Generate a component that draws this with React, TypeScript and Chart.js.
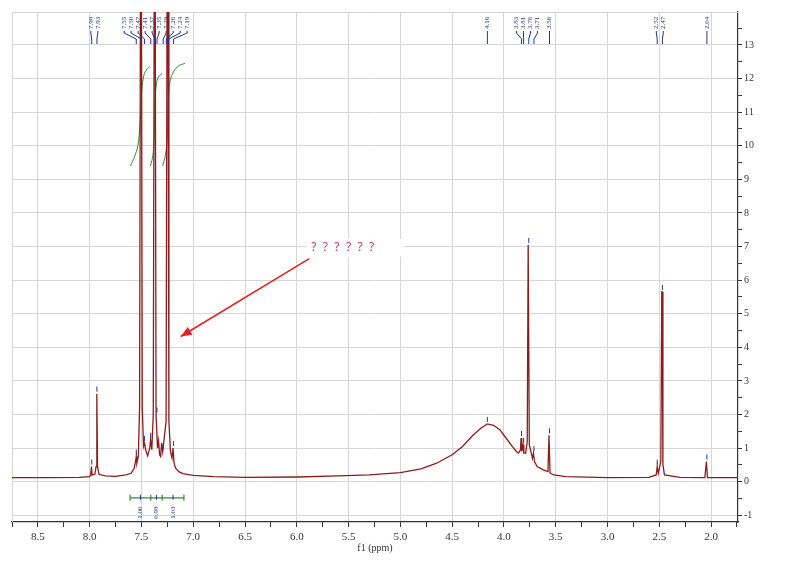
import React, { useEffect, useRef } from 'react';
import { Chart, registerables } from 'chart.js';

Chart.register(...registerables);

// ---- spectrum (ppm, intensity) ----
const spectrumPpm = [
  8.75, 8.4, 8.1, 8.0, 7.99, 7.983, 7.976, 7.95, 7.938, 7.931, 7.924, 7.91, 7.85, 7.75, 7.65, 7.6,
  7.57, 7.555, 7.55, 7.545, 7.53, 7.518, 7.51, 7.5, 7.492, 7.48, 7.47, 7.46, 7.44, 7.42, 7.412, 7.4,
  7.386, 7.377, 7.367, 7.359, 7.345, 7.335, 7.325, 7.315, 7.305, 7.295, 7.262, 7.253, 7.243, 7.235, 7.22, 7.205,
  7.195, 7.185, 7.17, 7.14, 7.1, 7.0, 6.8, 6.5, 6.0, 5.6, 5.3, 5.0, 4.8, 4.65, 4.5, 4.4, 4.3, 4.22,
  4.16, 4.1, 4.04, 3.98, 3.92, 3.88, 3.86, 3.84, 3.835, 3.828, 3.815, 3.808, 3.79, 3.775, 3.766, 3.762,
  3.755, 3.74, 3.725, 3.715, 3.705, 3.68, 3.62, 3.575, 3.565, 3.555, 3.52, 3.4, 3.0, 2.6, 2.53,
  2.52, 2.51, 2.485, 2.476, 2.472, 2.465, 2.45, 2.3, 2.06, 2.045, 2.035, 1.9, 1.74,
];
const spectrumIntensity = [
  0.12, 0.12, 0.13, 0.15, 0.2, 0.45, 0.2, 0.22, 0.45, 2.62, 0.45, 0.22, 0.17, 0.16, 0.2, 0.25,
  0.4, 0.65, 0.75, 0.55, 0.75, 2.2, 14.5, 14.5, 2.2, 1.05, 1.15, 0.95, 0.77, 1.0, 1.25, 0.95,
  2.0, 14.5, 14.5, 2.0, 1.0, 1.22, 0.8, 0.75, 1.15, 0.9, 1.8, 14.5, 14.5, 1.8, 0.9, 0.7,
  1.0, 0.55, 0.4, 0.3, 0.24, 0.19, 0.15, 0.13, 0.14, 0.17, 0.2, 0.27, 0.38, 0.55, 0.8, 1.05, 1.38, 1.6,
  1.72, 1.68, 1.55, 1.3, 1.05, 0.9, 0.85, 0.95, 1.3, 0.9, 1.1, 0.85, 0.85, 1.2, 7.05, 7.05,
  1.1, 0.9, 0.7, 0.85, 0.6, 0.45, 0.35, 0.3, 1.38, 0.26, 0.2, 0.15, 0.12, 0.13, 0.2,
  0.45, 0.25, 0.6, 5.65, 5.65, 0.5, 0.2, 0.13, 0.12, 0.6, 0.12, 0.12, 0.12,
];

// ---- picked peak labels ----
const peakLabels = [
  7.98, 7.93, 7.55, 7.5, 7.47, 7.41, 7.37, 7.35, 7.29, 7.26, 7.24, 7.19,
  4.16, 3.83, 3.81, 3.76, 3.71, 3.56, 2.52, 2.47, 2.04,
];

// ---- integrals ----
const integralFrom = [7.61, 7.41, 7.3];
const integralTo = [7.41, 7.3, 7.09];
const integralValues = ['1.00', '0.98', '1.03'];

const integralCurve1Ppm = [7.607, 7.57, 7.535, 7.515, 7.505, 7.495, 7.48, 7.455, 7.42];
const integralCurve1Value = [9.4, 9.65, 10.0, 10.6, 11.2, 11.7, 12.05, 12.25, 12.35];
const integralCurve2Ppm = [7.413, 7.39, 7.378, 7.372, 7.366, 7.355, 7.335, 7.3];
const integralCurve2Value = [9.4, 9.7, 10.2, 10.9, 11.5, 11.85, 12.05, 12.15];
const integralCurve3Ppm = [7.296, 7.27, 7.252, 7.245, 7.238, 7.225, 7.19, 7.14, 7.08];
const integralCurve3Value = [9.4, 9.7, 10.2, 10.9, 11.5, 11.9, 12.2, 12.38, 12.45];

// ---- annotation / axis text ----
const annotationText = '? ? ? ? ? ?';
const xAxisTitle = 'f1 (ppm)';

const SERIF = "'Liberation Serif', 'DejaVu Serif', serif";
const BLUE = '#24348a';
const GREEN = '#2f8a2f';
const RED_LINE = '#8b1c1c';

function pts(xs: number[], ys: number[]) {
  return xs.map((v, i) => ({ x: v, y: ys[i] }));
}

function isMultiple(v: number, step: number) {
  const r = v / step;
  return Math.abs(r - Math.round(r)) < 1e-6;
}

function spread(px: number[], gap: number) {
  const pos = px.slice();
  for (let it = 0; it < 200; it++) {
    for (let i = 1; i < pos.length; i++) {
      const d = pos[i] - pos[i - 1];
      if (d < gap) {
        const m = (gap - d) / 2;
        pos[i - 1] -= m;
        pos[i] += m;
      }
    }
  }
  return pos;
}

const overlay = {
  id: 'nmrOverlay',
  beforeDatasetsDraw(chart: any) {
    const { ctx, chartArea } = chart;
    ctx.save();
    ctx.strokeStyle = '#d4d4d4';
    ctx.lineWidth = 1;
    ctx.beginPath();
    ctx.moveTo(chartArea.left + 0.5, chartArea.bottom);
    ctx.lineTo(chartArea.left + 0.5, chartArea.top + 0.5);
    ctx.lineTo(chartArea.right, chartArea.top + 0.5);
    ctx.stroke();
    ctx.restore();
  },
  afterDraw(chart: any) {
    const { ctx, chartArea } = chart;
    const xs = chart.scales.x;
    const ys = chart.scales.y;
    ctx.save();

    // x axis title
    ctx.fillStyle = '#333';
    ctx.font = `10px ${SERIF}`;
    ctx.textAlign = 'center';
    ctx.textBaseline = 'middle';
    ctx.fillText(xAxisTitle, (chartArea.left + chartArea.right) / 2, 548);

    // peak labels (sorted by pixel)
    const peakPx = peakLabels.map((p) => xs.getPixelForValue(p));
    const order = peakPx.map((v, i) => i).sort((a, b) => peakPx[a] - peakPx[b]);
    const sortedPx = order.map((i) => peakPx[i]);
    const labPx = spread(sortedPx, 7);
    const top = chartArea.top;
    ctx.strokeStyle = BLUE;
    ctx.fillStyle = BLUE;
    ctx.lineWidth = 1;
    order.forEach((idx, k) => {
      const lx = labPx[k];
      const px = sortedPx[k];
      ctx.beginPath();
      ctx.moveTo(lx, top + 19);
      ctx.lineTo(lx, top + 21);
      ctx.lineTo(px, top + 27);
      ctx.lineTo(px, top + 32);
      ctx.stroke();
      ctx.save();
      ctx.translate(lx, top + 17);
      ctx.rotate(-Math.PI / 2);
      ctx.font = `7px ${SERIF}`;
      ctx.textAlign = 'left';
      ctx.textBaseline = 'middle';
      ctx.fillText(peakLabels[idx].toFixed(2), 0, 0);
      ctx.restore();

      // small marker above the peak top
      const p = peakLabels[idx];
      let h = -Infinity;
      spectrumPpm.forEach((v, j) => {
        if (Math.abs(v - p) < 0.012) h = Math.max(h, spectrumIntensity[j]);
      });
      if (h > 0 && h < 13) {
        const yp = ys.getPixelForValue(h);
        ctx.beginPath();
        ctx.moveTo(px, yp - 2);
        ctx.lineTo(px, yp - 7);
        ctx.stroke();
      }
    });

    // integral bar
    const barY = ys.getPixelForValue(-0.48);
    ctx.strokeStyle = GREEN;
    ctx.lineWidth = 1.2;
    ctx.beginPath();
    ctx.moveTo(xs.getPixelForValue(integralFrom[0]), barY);
    ctx.lineTo(xs.getPixelForValue(integralTo[integralTo.length - 1]), barY);
    ctx.stroke();
    const bounds = [integralFrom[0], ...integralTo];
    bounds.forEach((b) => {
      const bx = xs.getPixelForValue(b);
      ctx.beginPath();
      ctx.moveTo(bx, barY - 3);
      ctx.lineTo(bx, barY + 3);
      ctx.stroke();
    });
    ctx.fillStyle = BLUE;
    integralValues.forEach((t, i) => {
      const cx = xs.getPixelForValue((integralFrom[i] + integralTo[i]) / 2);
      ctx.strokeStyle = BLUE;
      ctx.lineWidth = 1;
      ctx.beginPath();
      ctx.moveTo(cx, barY - 3);
      ctx.lineTo(cx, barY + 2);
      ctx.stroke();
      ctx.save();
      ctx.translate(cx, barY + 21);
      ctx.rotate(-Math.PI / 2);
      ctx.font = `7px ${SERIF}`;
      ctx.textAlign = 'left';
      ctx.textBaseline = 'middle';
      ctx.fillText(t, 0, 0);
      ctx.restore();
    });

    // annotation: white box, text, arrow
    const tx = xs.getPixelForValue(5.86);
    const ty = ys.getPixelForValue(6.96);
    ctx.fillStyle = '#ffffff';
    ctx.fillRect(tx - 5, ty - 9, 97, 18);
    ctx.fillStyle = '#c0405a';
    ctx.font = "12px 'Noto Sans', sans-serif";
    ctx.textAlign = 'left';
    ctx.textBaseline = 'middle';
    (ctx as any).letterSpacing = '1.6px';
    ctx.fillText(annotationText, tx, ty);
    (ctx as any).letterSpacing = '0px';

    const ax0 = xs.getPixelForValue(5.879);
    const ay0 = ys.getPixelForValue(6.64);
    const ax1 = xs.getPixelForValue(7.121);
    const ay1 = ys.getPixelForValue(4.32);
    ctx.strokeStyle = '#e02424';
    ctx.fillStyle = '#e02424';
    ctx.lineWidth = 1.6;
    ctx.beginPath();
    ctx.moveTo(ax0, ay0);
    ctx.lineTo(ax1, ay1);
    ctx.stroke();
    const ang = Math.atan2(ay1 - ay0, ax1 - ax0);
    const L = 11;
    const W = 4.5;
    ctx.beginPath();
    ctx.moveTo(ax1, ay1);
    ctx.lineTo(ax1 - L * Math.cos(ang) + W * Math.sin(ang), ay1 - L * Math.sin(ang) - W * Math.cos(ang));
    ctx.lineTo(ax1 - L * Math.cos(ang) - W * Math.sin(ang), ay1 - L * Math.sin(ang) + W * Math.cos(ang));
    ctx.closePath();
    ctx.fill();

    ctx.restore();
  },
};

export default function App() {
  const canvasRef = useRef<HTMLCanvasElement | null>(null);

  useEffect(() => {
    const canvas = canvasRef.current;
    if (!canvas) return;
    const curveStyle = {
      borderColor: GREEN,
      borderWidth: 1,
      pointRadius: 0,
      tension: 0.4,
      fill: false,
    };
    const chart = new Chart(canvas, {
      type: 'line',
      data: {
        datasets: [
          {
            label: 'spectrum',
            data: pts(spectrumPpm, spectrumIntensity),
            borderColor: RED_LINE,
            borderWidth: 1.3,
            pointRadius: 0,
            tension: 0,
            fill: false,
          },
          { label: 'int1', data: pts(integralCurve1Ppm, integralCurve1Value), ...curveStyle },
          { label: 'int2', data: pts(integralCurve2Ppm, integralCurve2Value), ...curveStyle },
          { label: 'int3', data: pts(integralCurve3Ppm, integralCurve3Value), ...curveStyle },
        ] as any,
      },
      options: {
        animation: false,
        responsive: false,
        maintainAspectRatio: false,
        layout: { padding: { left: 12, top: 12, right: 0, bottom: 0 } },
        plugins: { legend: { display: false }, tooltip: { enabled: false } },
        scales: {
          x: {
            type: 'linear',
            reverse: true,
            min: 1.74,
            max: 8.75,
            afterFit: (s: any) => {
              s.height = 43;
              s.paddingLeft = 0;
              s.paddingRight = 0;
            },
            border: { display: true, color: '#333', width: 1.2 },
            grid: {
              color: (c: any) => (c.tick && isMultiple(c.tick.value, 0.5) ? '#d6d6d6' : 'rgba(0,0,0,0)'),
              tickColor: '#333',
              tickLength: 5,
              drawTicks: true,
            },
            ticks: {
              stepSize: 0.25,
              includeBounds: false,
              autoSkip: false,
              maxRotation: 0,
              padding: 4,
              color: '#333',
              font: { family: SERIF, size: 11 },
              callback: (v: any) => (isMultiple(Number(v), 0.5) ? Number(v).toFixed(1) : ''),
            },
          },
          y: {
            type: 'linear',
            position: 'right',
            min: -1.2,
            max: 13.98,
            afterFit: (s: any) => {
              s.width = 62;
            },
            border: { display: true, color: '#333', width: 1.2 },
            grid: {
              color: (c: any) => (c.tick && isMultiple(c.tick.value, 1) ? '#d6d6d6' : 'rgba(0,0,0,0)'),
              tickColor: '#333',
              tickLength: 4,
              drawTicks: true,
            },
            ticks: {
              stepSize: 0.5,
              includeBounds: false,
              autoSkip: false,
              padding: 2,
              color: '#333',
              font: { family: SERIF, size: 10 },
              callback: (v: any) => (isMultiple(Number(v), 1) ? String(Math.round(Number(v))) : ''),
            },
          },
        },
      } as any,
      plugins: [overlay],
    });
    return () => chart.destroy();
  }, []);

  return (
    <div style={{ position: 'fixed', left: 0, top: 0, width: 800, height: 565, background: '#fff' }}>
      <canvas ref={canvasRef} width={800} height={565} style={{ width: 800, height: 565, display: 'block' }} />
    </div>
  );
}
